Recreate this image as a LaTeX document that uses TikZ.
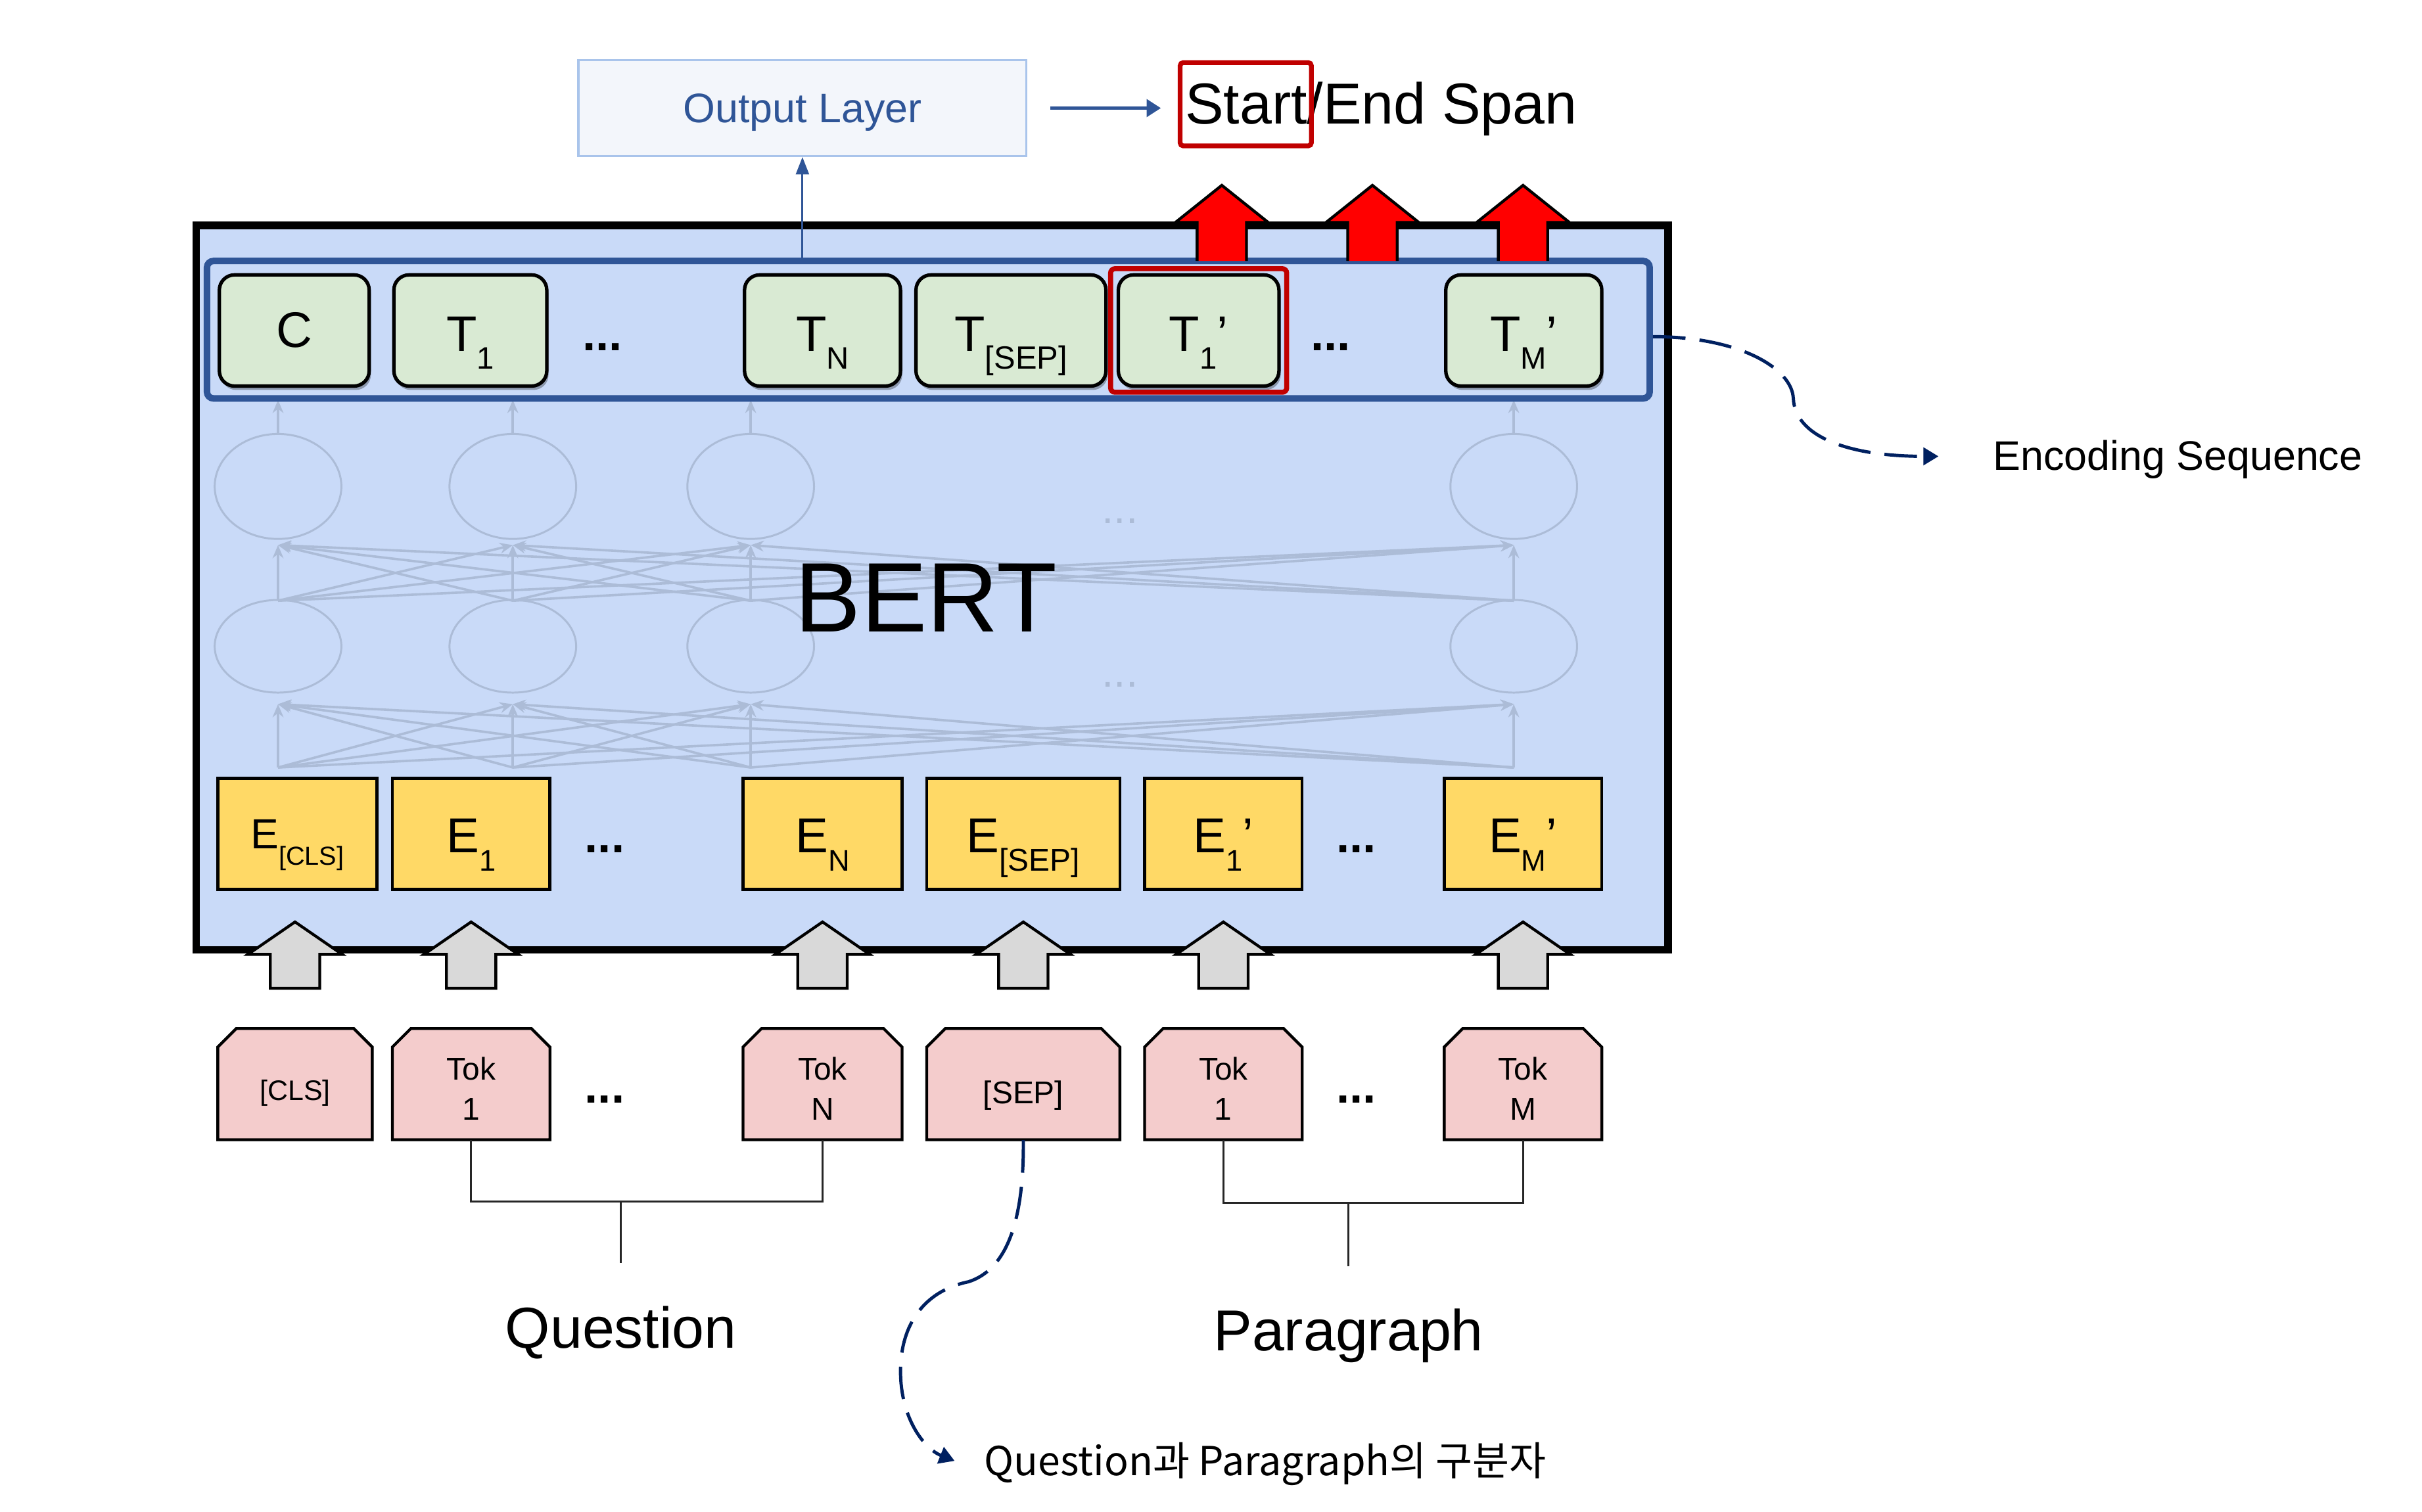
\documentclass[tikz,border=0pt]{standalone}
\usepackage{fontspec}
\setmainfont{Liberation Sans}
\newfontfamily\krfont{Noto Sans CJK KR}
\usetikzlibrary{arrows.meta,shadows,calc}
\definecolor{bertfill}{HTML}{C9DAF8}
\definecolor{tgreen}{HTML}{D9EAD3}
\definecolor{eyellow}{HTML}{FFD966}
\definecolor{tpink}{HTML}{F4CCCC}
\definecolor{agray}{HTML}{D9D9D9}
\definecolor{encblue}{HTML}{2F5597}
\definecolor{outfill}{HTML}{F3F6FB}
\definecolor{outborder}{HTML}{A9C4EB}
\definecolor{navy}{HTML}{002060}
\definecolor{dred}{HTML}{C00000}
\definecolor{netc}{RGB}{172,188,215}
\newcommand\sbx[3]{\raisebox{-#1}{\fontsize{#2}{#2}\selectfont #3}}
\newcommand\placebox[6]{\node[#1,minimum width={(#4-#3)*0.025cm}] (#2) at ({(#3+#4)/2},#5) {#6};}
\newcommand\tokbox[5]{%
\filldraw[tokshape] (#2,738) -- (#2,678) -- ({#2+12},666) -- ({#3-12},666) -- (#3,678) -- (#3,738) -- cycle;
\node[tokn,#4,minimum width={(#3-#2)*0.025cm}] (#1) at ({(#2+#3)/2},702) {#5};}
\begin{document}
\begin{tikzpicture}[x=0.025cm,y=-0.025cm,
 tbox/.style={draw=black, line width=1.6pt, fill=tgreen, rounded corners=7pt, inner sep=0pt,
   minimum height={72*0.025cm}, drop shadow={shadow xshift=0.8pt, shadow yshift=-1.8pt, opacity=0.3, fill=black},
   font=\fontsize{23}{23}\selectfont, text height=19.4pt, text depth=0pt},
 ebox/.style={draw=black, line width=1.4pt, fill=eyellow, inner sep=0pt, minimum height={72*0.025cm},
   font=\fontsize{22.6}{22.6}\selectfont, text height=17pt, text depth=0pt},
 tokshape/.style={draw=black, line width=1.3pt, fill=tpink, line join=miter},
 tokn/.style={inner sep=0pt, minimum height={72*0.025cm}, font=\fontsize{14.5}{18.5}\selectfont, align=center},
 twoline/.style={text height=33.4pt, text depth=0pt},
 dotsty/.style={font=\bfseries\fontsize{22}{22}\selectfont, anchor=base, inner sep=0pt},
 fdotsty/.style={font=\fontsize{20}{20}\selectfont, anchor=base, inner sep=0pt, text=netc},
 netl/.style={draw=netc, line width=0.9pt},
 netarr/.style={draw=netc, line width=1.1pt, -{Stealth[length=6pt,width=5pt]}},
 garrow/.style={fill=agray, draw=black, line width=1.3pt, line join=miter},
 brk/.style={draw=black!85, line width=1pt},
 dasharrow/.style={draw=navy, line width=1.5pt, dash pattern=on 15pt off 6.5pt, -{Triangle[length=7pt,width=8pt]}},
 lbl/.style={anchor=base, inner sep=0pt}
]
\useasboundingbox (0,0) rectangle (1568,979);
\fill[white] (0,0) rectangle (1568,979);

% BERT frame
\node[draw=black, line width=3.5pt, fill=bertfill, minimum width={953*0.025cm}, minimum height={469*0.025cm}, inner sep=0pt] (bert) at (603.5,380.5) {};

% faint network
\foreach \x in {180,332,486,980} {
  \draw[netl] (\x,315) ellipse [x radius=41, y radius=34];
  \draw[netl] (\x,418.5) ellipse [x radius=41, y radius=30];
  \draw[netarr] (\x,281) -- (\x,259);
  \foreach \y in {180,332,486,980} {
    \draw[netarr] (\x,389) -- (\y,353);
    \draw[netarr] (\x,497) -- (\y,456);
  }
}
\node[fdotsty] (nd1) at (725,339) {...};
\node[fdotsty] (nd2) at (725,445) {...};

\node[font=\fontsize{45.5}{45.5}\selectfont, lbl] (berttxt) at (599.5,409.3) {BERT};

% encoding sequence box
\node[draw=encblue, line width=3pt, rounded corners=3pt, minimum width={934*0.025cm}, minimum height={89*0.025cm}, inner sep=0pt] (enc) at (601,213.5) {};

% T row
\placebox{tbox,text height=15.2pt}{tC}{142}{239}{214}{C}
\placebox{tbox}{t1}{255}{354}{214}{T\sbx{8pt}{14.3}{1}}
\placebox{tbox}{tN}{482}{583}{214}{T\sbx{8pt}{14.3}{N}}
\placebox{tbox}{tS}{593}{716}{214}{T\sbx{8pt}{14.8}{[SEP]}}
\placebox{tbox}{t1p}{724}{828}{214}{T\sbx{8pt}{14.3}{1}’}
\placebox{tbox}{tM}{936}{1037}{214}{T\sbx{8pt}{14.3}{M}’}
\node[dotsty] (td1) at (390,227) {...};
\node[dotsty] (td2) at (861.5,227) {...};
\node[draw=dred, line width=2.3pt, rounded corners=2pt, minimum width={114*0.025cm}, minimum height={80*0.025cm}, inner sep=0pt] (selbox) at (776,214) {};

% E row
\placebox{ebox,font=\fontsize{19.4}{19.4}\selectfont,text height=13.6pt}{eC}{141}{244}{540}{E\sbx{7.5pt}{12}{[CLS]}}
\placebox{ebox}{e1}{254}{356}{540}{E\sbx{8.7pt}{13.7}{1}}
\placebox{ebox}{eN}{481}{584}{540}{E\sbx{8.7pt}{13.7}{N}}
\placebox{ebox}{eS}{600}{725}{540}{E\sbx{8.7pt}{14.5}{[SEP]}}
\placebox{ebox}{e1p}{741}{843}{540}{E\sbx{8.7pt}{13.7}{1}’}
\placebox{ebox}{eM}{935}{1037}{540}{E\sbx{8.7pt}{13.7}{M}’}
\node[dotsty] (ed1) at (391.5,552) {...};
\node[dotsty] (ed2) at (878,552) {...};

% gray input arrows
\foreach \c in {191,305,532.5,662.5,792,986} {
  \filldraw[garrow] (\c-16,640) -- (\c-16,618) -- (\c-30.5,618) -- (\c,597) -- (\c+30.5,618) -- (\c+16,618) -- (\c+16,640) -- cycle;
}

% red output arrows
\foreach \c in {791,888.5,986} {
  \fill[red] (\c-16,169) -- (\c-16,144) -- (\c-30,144) -- (\c,120) -- (\c+30,144) -- (\c+16,144) -- (\c+16,169) -- cycle;
  \draw[black, line width=1.3pt, line join=miter] (\c-16,169) -- (\c-16,144) -- (\c-30,144) -- (\c,120) -- (\c+30,144) -- (\c+16,144) -- (\c+16,169);
}

% token row
\tokbox{kC}{141}{241}{font=\fontsize{13}{13}\selectfont,text height=14.9pt,text depth=0pt}{[CLS]}
\tokbox{k1}{254}{356}{twoline}{Tok\\1}
\tokbox{kN}{481}{584}{twoline}{Tok\\N}
\tokbox{kS}{600}{725}{text height=17.8pt,text depth=0pt}{[SEP]}
\tokbox{k1p}{741}{843}{twoline}{Tok\\1}
\tokbox{kM}{935}{1037}{twoline}{Tok\\M}
\node[dotsty] (kd1) at (391.5,714) {...};
\node[dotsty] (kd2) at (878,714) {...};

% brackets
\coordinate (qj) at (402,778);
\coordinate (qe) at (402,818);
\coordinate (pj) at (873,779);
\coordinate (pe) at (873,820);
\draw[brk] (k1.south) |- (qj) -| (kN.south);
\draw[brk] (qj) -- (qe);
\draw[brk] (k1p.south) |- (pj) -| (kM.south);
\draw[brk] (pj) -- (pe);
\node[lbl, font=\fontsize{26.6}{26.6}\selectfont] (question) at (402,873) {Question};
\node[lbl, font=\fontsize{26.6}{26.6}\selectfont] (paragraph) at (873,874.6) {Paragraph};

% top: output layer
\node[draw=outborder, line width=1pt, fill=outfill, minimum width={290*0.025cm}, minimum height={62*0.025cm}, inner sep=0pt,
  text=encblue, font=\fontsize{19}{19}\selectfont, text height=13.4pt, text depth=0pt] (out) at (519.5,70) {Output Layer};
\node[anchor=base west, inner sep=0pt, font=\fontsize{26.6}{26.6}\selectfont] (span) at (767,80.3) {Start/End Span};
\node[draw=dred, line width=2.2pt, rounded corners=1.5pt, minimum width={85*0.025cm}, minimum height={54*0.025cm}, inner sep=0pt] (stbox) at (806.5,67.5) {};
\draw[encblue, line width=1.3pt, -{Triangle[length=6.5pt,width=8pt]}, shorten <=10.6pt, shorten >=11pt] (out.east) -- (out.east -| span.west);
\draw[encblue, line width=0.9pt, -{Triangle[length=8pt,width=6pt]}] (out.south |- enc.north) -- (out.south);

% side labels and dashed arrows
\node[anchor=base west, inner sep=0pt, font=\fontsize{19}{19}\selectfont] (encl) at (1290,304.3) {Encoding Sequence};
\node[anchor=base west, inner sep=0pt, font=\krfont\fontsize{18.4}{18.4}\selectfont] (kor) at (637,955.4) {Question과 Paragraph의 구분자};
\coordinate (encarr) at (1255,295.5);
\coordinate (korarr) at (618,946);
\draw[dasharrow] ($(enc.east)+(0,4.5)$) .. controls (1125,218) and (1160,238) .. (1161,258) .. controls (1162,282) and (1195,295.5) .. (encarr);
\draw[dasharrow] (kS.south) .. controls (663,790) and (652,822) .. (627,830) .. controls (598,836) and (583,858) .. (583,888) .. controls (583,918) and (598,938) .. (korarr);
\end{tikzpicture}
\end{document}
